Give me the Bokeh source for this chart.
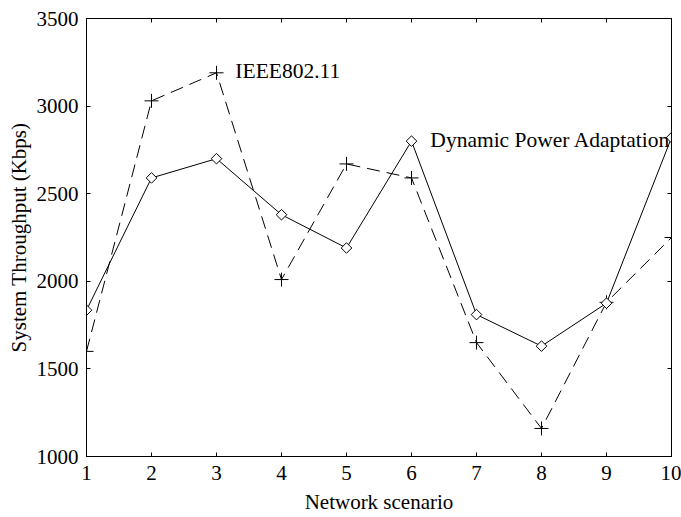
import math
from bokeh.plotting import figure
from bokeh.models import Range1d, FixedTicker, LinearAxis, Label, CustomLabelingPolicy
from bokeh.embed import file_html
from bokeh.resources import INLINE

scenarios = [1, 2, 3, 4, 5, 6, 7, 8, 9, 10]
dpa_throughput = [1835, 2590, 2700, 2380, 2190, 2800, 1810, 1630, 1875, 2820]
ieee_throughput = [1600, 3030, 3190, 2010, 2670, 2590, 1650, 1160, 1880, 2250]
x_ticks = [1, 2, 3, 4, 5, 6, 7, 8, 9, 10]
y_ticks = [1000, 1500, 2000, 2500, 3000, 3500]

FONT = "Liberation Serif"

p = figure(width=681, height=517, output_backend="svg", toolbar_location=None,
           x_range=Range1d(1, 10), y_range=Range1d(1000, 3500),
           min_border_left=86, min_border_right=10, min_border_top=18, min_border_bottom=61)
p.xgrid.visible = False
p.ygrid.visible = False
p.background_fill_color = "white"
p.border_fill_color = "white"
p.outline_line_color = "black"
p.outline_line_width = 1

def style_axis(ax, ticks, show_labels):
    ax.ticker = FixedTicker(ticks=ticks)
    ax.major_tick_in = 4
    ax.major_tick_out = 0
    ax.minor_tick_in = 0
    ax.minor_tick_out = 0
    ax.axis_line_color = "black"
    ax.major_tick_line_color = "black"
    if show_labels:
        ax.major_label_text_font = FONT
        ax.major_label_text_font_size = "21px"
        ax.major_label_text_color = "black"
    else:
        ax.major_label_text_font_size = "0px"
        ax.major_label_standoff = 0
        ax.major_label_policy = CustomLabelingPolicy(code="return []")

style_axis(p.xaxis[0], x_ticks, True)
style_axis(p.yaxis[0], y_ticks, True)
p.xaxis[0].major_label_standoff = 9
p.yaxis[0].major_label_standoff = 8
p.xaxis[0].axis_label = "Network scenario"
p.yaxis[0].axis_label = "System Throughput (Kbps)"
for ax in (p.xaxis[0], p.yaxis[0]):
    ax.axis_label_text_font = FONT
    ax.axis_label_text_font_size = "21px"
    ax.axis_label_text_font_style = "normal"
    ax.axis_label_text_color = "black"
p.xaxis[0].axis_label_standoff = 7
p.yaxis[0].axis_label_standoff = 3

top_ax = LinearAxis()
style_axis(top_ax, x_ticks, False)
p.add_layout(top_ax, "above")
right_ax = LinearAxis()
style_axis(right_ax, y_ticks, False)
p.add_layout(right_ax, "right")

# IEEE 802.11 (dashed, plus markers)
p.line(scenarios, ieee_throughput, line_color="black", line_width=1, line_dash="13 7")
p.scatter(scenarios, ieee_throughput, marker="cross", size=14, line_color="black", line_width=1)

# Dynamic Power Adaptation (solid, diamond markers)
p.line(scenarios, dpa_throughput, line_color="black", line_width=1)
p.scatter(scenarios, dpa_throughput, marker="square", angle=math.pi / 4, size=7.5,
          line_color="black", fill_color="white", line_width=1)

p.add_layout(Label(x=3.29, y=3199, text="IEEE802.11", text_font=FONT, text_font_size="21.5px",
                   text_baseline="middle", text_color="black"))
p.add_layout(Label(x=6.29, y=2805, text="Dynamic Power Adaptation", text_font=FONT,
                   text_font_size="21.5px", text_baseline="middle", text_color="black"))

open("out.html", "w").write(file_html(p, INLINE))
